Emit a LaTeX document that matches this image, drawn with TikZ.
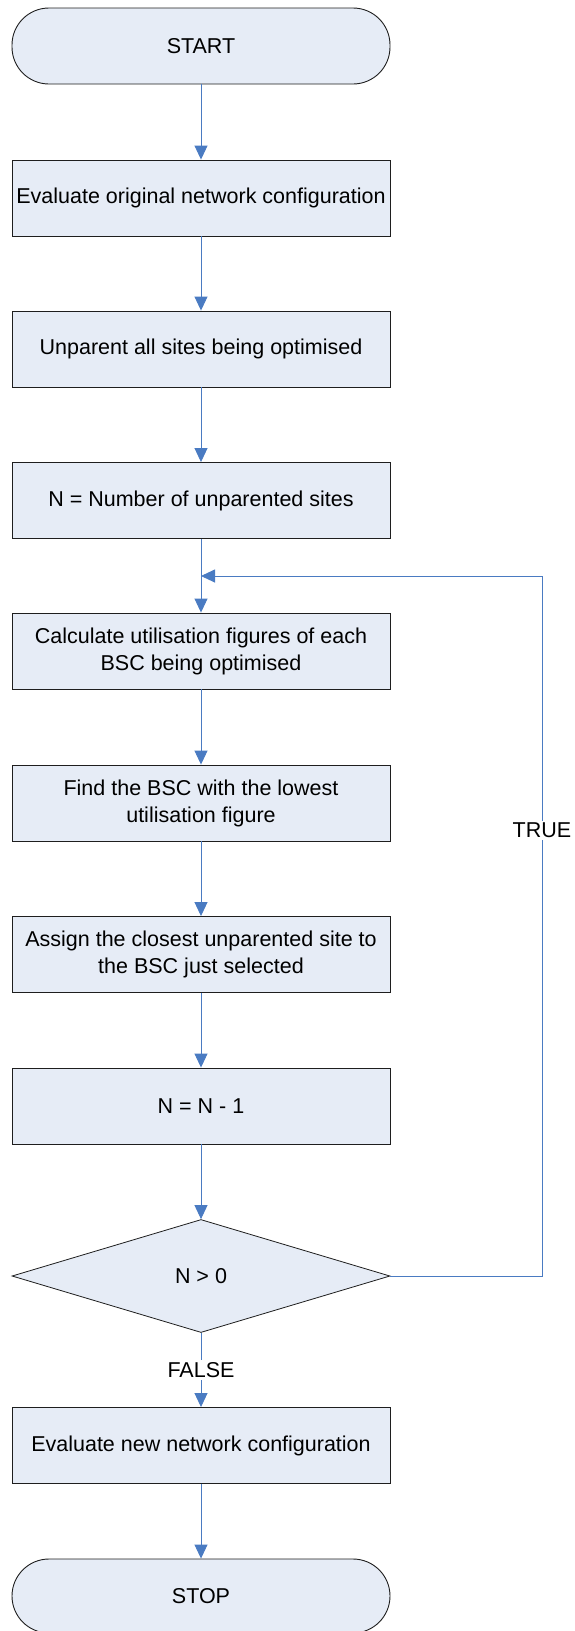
\documentclass[tikz,border=0pt]{standalone}
\usepackage{fontspec}
\setmainfont{Liberation Sans}
\usetikzlibrary{arrows.meta,shapes.geometric}

\definecolor{boxfill}{HTML}{E6ECF6}
\definecolor{flowblue}{HTML}{4A7BC2}
\definecolor{edgegray}{HTML}{1E1E1E}

\tikzset{
  every node/.style={font=\fontsize{21.5}{27}\selectfont},
  stepbox/.style={draw=edgegray, line width=0.9pt, fill=boxfill, rectangle,
    minimum width=378pt, minimum height=76pt, inner sep=0pt, align=center},
  terminal/.style={stepbox, rounded corners=37pt},
  decision/.style={draw=edgegray, line width=0.8pt, fill=boxfill, diamond,
    minimum width=378pt, minimum height=113pt, inner sep=0pt, aspect=3.35},
  flow/.style={draw=flowblue, line width=0.9pt,
    -{Triangle[length=14pt, width=13pt]}},
  tag/.style={fill=white, inner sep=2pt}
}

\begin{document}
\begin{tikzpicture}[x=1pt, y=-1pt]
  \useasboundingbox (0,0) rectangle (575,1631);

  % process steps
  \node[terminal] (start) at (201,46) {START};
  \node[stepbox] (evalorig) at (201,198) {Evaluate original network configuration};
  \node[stepbox] (unparent) at (201,349) {Unparent all sites being optimised};
  \node[stepbox] (count) at (201,500.5) {N = Number of unparented sites};
  \node[stepbox] (calc) at (201,651) {Calculate utilisation figures of each\\BSC being optimised};
  \node[stepbox] (find) at (201,803) {Find the BSC with the lowest\\utilisation figure};
  \node[stepbox] (assign) at (201,954.5) {Assign the closest unparented site to\\the BSC just selected};
  \node[stepbox] (dec) at (201,1106) {N = N - 1};
  \node[decision] (test) at (201,1276) {N > 0};
  \node[stepbox] (evalnew) at (201,1445.5) {Evaluate new network configuration};
  \node[terminal, minimum height=74pt] (stop) at (201,1596) {STOP};

  % loop routing points
  \coordinate (join) at (201,576);
  \coordinate (loopdown) at (542,1276);
  \coordinate (loopup) at (542,576);

  % main flow
  \draw[flow] (start) -- (evalorig);
  \draw[flow] (evalorig) -- (unparent);
  \draw[flow] (unparent) -- (count);
  \draw[flow] (count) -- (calc);
  \draw[flow] (calc) -- (find);
  \draw[flow] (find) -- (assign);
  \draw[flow] (assign) -- (dec);
  \draw[flow] (dec) -- (test);
  \draw[flow] (test) -- node[tag] (falselbl) {FALSE} (evalnew);
  \draw[flow] (evalnew) -- (stop);

  % return loop while N > 0
  \draw[flow] (test.east) -- (loopdown) -- node[tag, pos=0.637] (truelbl) {TRUE} (loopup) -- (join);
\end{tikzpicture}
\end{document}
